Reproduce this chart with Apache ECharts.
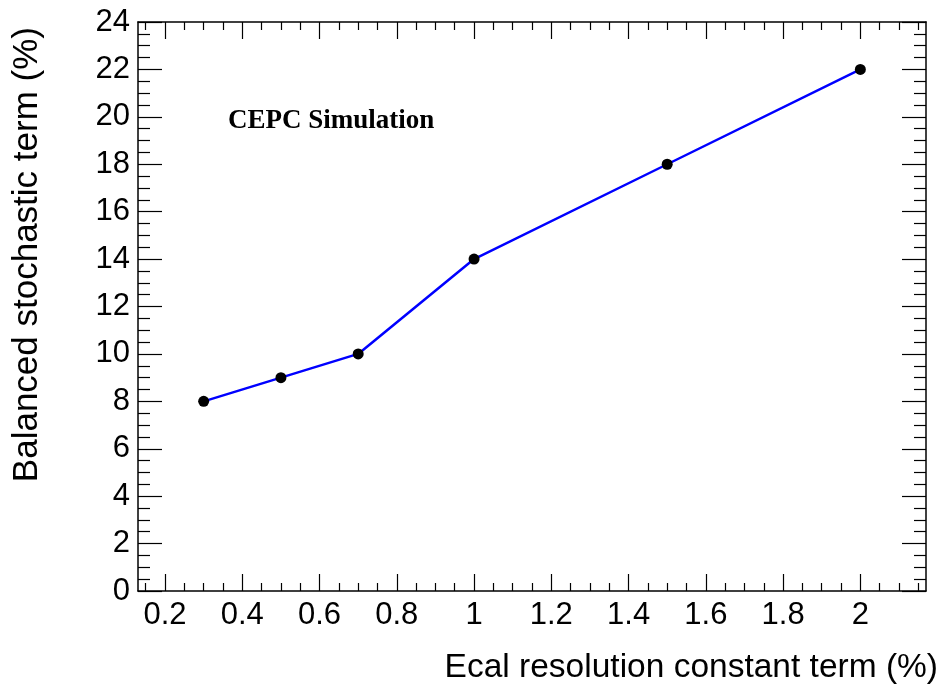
<!DOCTYPE html>
<html>
<head>
<meta charset="utf-8">
<script src="https://cdn.jsdelivr.net/npm/echarts@6/dist/echarts.min.js"></script>
<style>
  html, body { margin: 0; padding: 0; background: #fff; }
  #main { width: 942px; height: 684px; }
</style>
</head>
<body>
<div id="main"></div>
<script>
// data
var constTerm = [0.3, 0.5, 0.7, 1, 1.5, 2];
var stochTerm = [8, 9, 10, 14, 18, 22];

// axis ticks
var xMajorTicks = [0.2, 0.4, 0.6, 0.8, 1, 1.2, 1.4, 1.6, 1.8, 2];
var yMajorTicks = [0, 2, 4, 6, 8, 10, 12, 14, 16, 18, 20, 22, 24];
var xTitle = 'Ecal resolution constant term (%)';
var yTitle = 'Balanced stochastic term (%)';
var label = 'CEPC Simulation';

var xMin = 0.13, xMax = 2.17;
var yMin = 0, yMax = 24;

// minor ticks: 4 subdivisions per major step
function minors(majors, step, lo, hi) {
    var out = [];
    var start = majors[0] - step;
    for (var v = start; v <= hi + 1e-9; v += step / 4) {
        var r = Math.round(v * 1000) / 1000;
        if (r < lo - 1e-9) continue;
        if (Math.abs(r / step - Math.round(r / step)) < 1e-6) continue;
        out.push(r);
    }
    return out;
}
var xMinorTicks = minors(xMajorTicks, 0.2, xMin, xMax);
var yMinorTicks = minors(yMajorTicks, 2, yMin, yMax);

var font = 'Liberation Sans, Arial, Helvetica, sans-serif';

function xAx(pos, ticks, len, withLabel, line) {
    return {
        type: 'value', gridIndex: 0, position: pos, min: xMin, max: xMax,
        axisLine: { show: line, onZero: false, lineStyle: { color: '#000', width: 1.5 } },
        axisTick: { show: true, inside: true, length: len, customValues: ticks,
            lineStyle: { color: '#000', width: 1.2 } },
        axisLabel: { show: withLabel, customValues: ticks, margin: 9,
            color: '#000', fontSize: 31, fontFamily: font,
            formatter: function (v) { return String(+(+v).toFixed(2)); } },
        splitLine: { show: false }
    };
}
function yAx(pos, ticks, len, withLabel, line) {
    return {
        type: 'value', gridIndex: 0, position: pos, min: yMin, max: yMax,
        axisLine: { show: line, onZero: false, lineStyle: { color: '#000', width: 1.5 } },
        axisTick: { show: true, inside: true, length: len, customValues: ticks,
            lineStyle: { color: '#000', width: 1.2 } },
        axisLabel: { show: withLabel, customValues: ticks, margin: 8,
            color: '#000', fontSize: 31, fontFamily: font },
        splitLine: { show: false }
    };
}

var chart = echarts.init(document.getElementById('main'), null, { renderer: 'canvas' });

var points = [];
for (var i = 0; i < constTerm.length; i++) {
    points.push([constTerm[i], stochTerm[i]]);
}

var option = {
    animation: false,
    backgroundColor: '#fff',
    grid: { left: 138, right: 16, top: 22, bottom: 93, containLabel: false },
    xAxis: [
        xAx('bottom', xMajorTicks, 17, true, true),
        xAx('bottom', xMinorTicks, 8, false, false),
        xAx('top', xMajorTicks, 17, false, true),
        xAx('top', xMinorTicks, 8, false, false)
    ],
    yAxis: [
        yAx('left', yMajorTicks, 24, true, true),
        yAx('left', yMinorTicks, 12, false, false),
        yAx('right', yMajorTicks, 24, false, true),
        yAx('right', yMinorTicks, 12, false, false)
    ],
    series: [{
        type: 'line',
        xAxisIndex: 0,
        yAxisIndex: 0,
        data: points,
        symbol: 'circle',
        symbolSize: 11,
        lineStyle: { color: '#0000ff', width: 2.5 },
        itemStyle: { color: '#000' },
        emphasis: { disabled: true }
    }],
    graphic: [
        {
            type: 'text', x: 938, y: 685,
            style: { text: xTitle, font: '33.5px ' + font, fill: '#000',
                align: 'right', verticalAlign: 'bottom' }
        },
        {
            type: 'text', x: 27, y: 27, rotation: Math.PI / 2,
            style: { text: yTitle, font: '35px ' + font, fill: '#000',
                align: 'right', verticalAlign: 'middle' }
        },
        {
            type: 'text', x: 228, y: 121,
            style: { text: label, font: 'bold 27px Liberation Serif, Times New Roman, serif',
                fill: '#000', align: 'left', verticalAlign: 'middle' }
        }
    ]
};

chart.setOption(option);
</script>
</body>
</html>
